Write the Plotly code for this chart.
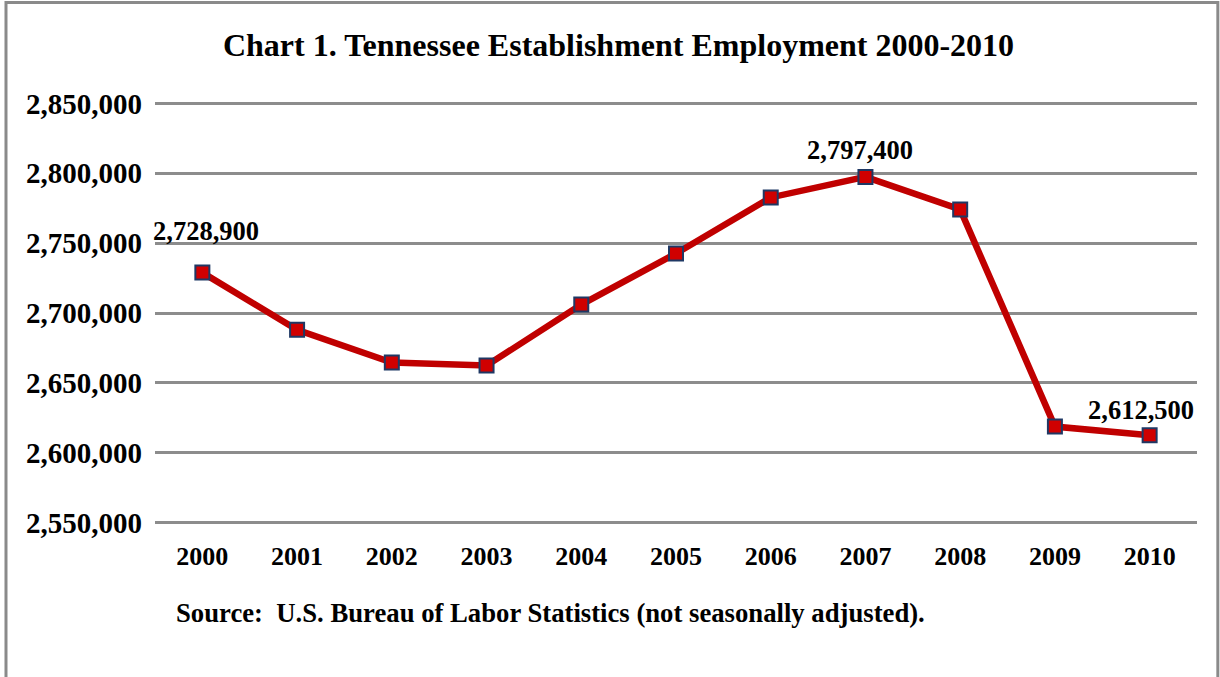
import plotly.graph_objects as go

years = ["2000", "2001", "2002", "2003", "2004", "2005", "2006", "2007", "2008", "2009", "2010"]
employment = [2728900, 2688000, 2664500, 2662400, 2706000, 2742600, 2782700, 2797400, 2774100, 2618700, 2612500]
labeled_years = ["2000", "2007", "2010"]
tick_vals = [2550000, 2600000, 2650000, 2700000, 2750000, 2800000, 2850000]

FONT = "Liberation Serif"
idx = list(range(len(years)))

fig = go.Figure()
fig.add_trace(go.Scatter(
    x=idx, y=employment, mode="lines+markers",
    line=dict(color="#c00000", width=6.5),
    marker=dict(symbol="square", size=14, color="#d00000",
                line=dict(color="#1f3864", width=2)),
    showlegend=False, hoverinfo="skip",
))

# value labels for the first, peak and last years
label_offsets = {"2000": (4, 42), "2007": (-5, 27), "2010": (-9, 25)}
for yr in labeled_years:
    i = years.index(yr)
    dx, dy = label_offsets[yr]
    fig.add_annotation(x=i, y=employment[i], text=f"<b>{employment[i]:,}</b>",
                       showarrow=False, xshift=dx, yshift=dy,
                       font=dict(family=FONT, size=26.5, color="black"))

fig.add_annotation(text="<b>Source:  U.S. Bureau of Labor Statistics (not seasonally adjusted).</b>",
                   xref="paper", yref="paper", x=0.0185, y=-0.212, xanchor="left", yanchor="middle",
                   showarrow=False, font=dict(family=FONT, size=26.7, color="black"))

# outer frame
fig.add_shape(type="rect", xref="paper", yref="paper",
              x0=-0.143, x1=1.020, y0=-0.5, y1=1.236,
              line=dict(color="#8a8a8a", width=3), layer="below")

fig.update_layout(
    width=1220, height=677,
    margin=dict(l=155, r=23, t=102, b=153),
    paper_bgcolor="white", plot_bgcolor="white",
    font=dict(family=FONT, color="black", size=26),
    title=dict(text="<b>Chart 1. Tennessee Establishment Employment 2000-2010</b>",
               x=0.507, xanchor="center", y=0.934, yanchor="middle",
               font=dict(family=FONT, size=32, color="black")),
)
fig.update_xaxes(range=[-0.5, 10.5], tickvals=idx, ticktext=[f"<b>{y}</b>" for y in years],
                 showgrid=False, showline=False, zeroline=False, ticks="",
                 tickfont=dict(family=FONT, size=26, color="black"), ticklabelstandoff=14)
fig.update_yaxes(range=[2549000, 2851000], tickvals=tick_vals,
                 ticktext=[f"<b>{v:,}</b>" for v in tick_vals],
                 showgrid=True, gridcolor="#8c8c8c", gridwidth=2.5, zeroline=False,
                 showline=False, ticks="", ticklabelstandoff=12,
                 tickfont=dict(family=FONT, size=29, color="black"))

fig.write_html("out.html")
